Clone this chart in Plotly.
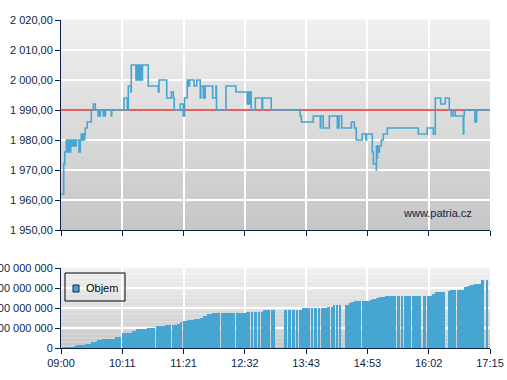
import plotly.graph_objects as go

# ---------------- data ----------------
price_times = [
    "09:00:00", "09:03:06", "09:04:18", "09:06:06", "09:06:42", "09:07:12", "09:07:48", "09:08:36",
    "09:09:30", "09:11:12", "09:12:18", "09:12:48", "09:14:42", "09:15:12", "09:17:00", "09:17:30",
    "09:20:48", "09:21:18", "09:21:48", "09:22:18", "09:23:24", "09:24:12", "09:24:48", "09:25:24",
    "09:26:00", "09:26:36", "09:27:18", "09:28:00", "09:30:18", "09:35:00", "09:37:18", "09:39:36",
    "09:42:42", "09:43:30", "09:44:18", "09:45:30", "09:48:48", "09:49:36", "09:50:24", "09:51:12",
    "09:58:00", "09:58:30", "10:12:42", "10:16:30", "10:17:42", "10:20:48", "10:21:06", "10:26:30",
    "10:27:12", "10:27:54", "10:28:36", "10:29:18", "10:30:00", "10:30:42", "10:31:24", "10:32:06",
    "10:32:48", "10:33:30", "10:34:00", "10:40:42", "10:52:18", "10:53:06", "11:02:00", "11:07:18",
    "11:09:36", "11:10:42", "11:17:36", "11:21:06", "11:22:30", "11:25:42", "11:26:18", "11:27:00",
    "11:27:42", "11:28:18", "11:33:30", "11:36:36", "11:40:42", "11:41:18", "11:44:12", "11:44:54",
    "11:45:36", "11:46:18", "11:55:00", "11:58:48", "11:59:24", "12:10:24", "12:21:54", "12:35:00",
    "12:35:36", "12:37:18", "12:38:00", "12:39:30", "12:44:12", "12:51:54", "12:52:36", "13:02:36",
    "13:35:48", "13:37:18", "13:51:06", "13:59:12", "13:59:48", "14:02:36", "14:09:36", "14:18:48",
    "14:19:30", "14:20:12", "14:20:48", "14:23:54", "14:35:00", "14:38:24", "14:40:42", "14:47:36",
    "14:51:54", "14:52:36", "14:59:12", "15:00:24", "15:03:48", "15:04:00", "15:04:36", "15:05:12",
    "15:05:48", "15:07:18", "15:09:36", "15:11:54", "15:16:30", "15:52:18", "16:02:36", "16:09:36",
    "16:11:54", "16:18:06", "16:23:24", "16:28:00", "16:30:18", "16:32:36", "16:34:54", "16:44:12",
    "16:44:42", "16:45:18", "16:57:42", "16:58:18", "16:58:54", "16:59:30", "17:15:00",
]
price_values = [
    1962, 1972, 1976, 1980, 1976, 1980, 1976, 1980,
    1976, 1980, 1978, 1980, 1978, 1980, 1978, 1980,
    1976, 1980, 1976, 1980, 1982, 1980, 1982, 1980,
    1982, 1980, 1982, 1984, 1986, 1990, 1992, 1990,
    1988, 1990, 1988, 1990, 1988, 1990, 1988, 1990,
    1988, 1990, 1994, 1990, 1998, 1996, 2005, 2000,
    2005, 2000, 2005, 2000, 2005, 2000, 2005, 2000,
    2005, 2000, 2005, 1998, 1996, 2000, 1994, 1996,
    1994, 1990, 1992, 1988, 1994, 2000, 1998, 2000,
    1998, 2000, 1998, 2000, 1994, 1998, 1994, 1998,
    1994, 1998, 1994, 1998, 1990, 1998, 1996, 1992,
    1996, 1992, 1996, 1990, 1994, 1990, 1994, 1990,
    1988, 1986, 1988, 1984, 1988, 1984, 1988, 1984,
    1988, 1984, 1988, 1984, 1986, 1984, 1980, 1982,
    1980, 1982, 1976, 1972, 1970, 1978, 1974, 1978,
    1976, 1978, 1980, 1982, 1984, 1982, 1984, 1982,
    1994, 1992, 1994, 1990, 1988, 1990, 1988, 1982,
    1988, 1990, 1986, 1990, 1986, 1990, 1990,
]
prev_close = 1990

vol_start = [
    "09:02", "09:15", "09:17", "09:28", "09:35", "09:41", "09:47", "10:02", "10:10", "10:22",
    "10:27", "10:39", "10:50", "11:00", "11:04", "11:08", "11:14", "11:17", "11:21", "11:27",
    "11:33", "11:40", "11:44", "11:48", "11:54", "12:02", "12:05", "12:12", "12:22", "12:25",
    "12:27", "12:34", "12:39", "12:43", "12:44", "12:47", "12:51", "12:53", "13:02", "13:17",
    "13:22", "13:26", "13:31", "13:35", "13:38", "13:43", "13:48", "13:52", "13:56", "14:00",
    "14:04", "14:08", "14:11", "14:14", "14:17", "14:21", "14:28", "14:32", "14:35", "14:38",
    "14:47", "14:56", "14:57", "14:59", "15:03", "15:07", "15:14", "15:28", "15:32", "15:36",
    "15:45", "15:58", "16:02", "16:08", "16:12", "16:27", "16:29", "16:37", "16:45", "16:47",
    "16:48", "16:52", "16:55", "16:57", "17:05", "17:11",
]
vol_end = [
    "09:15", "09:17", "09:28", "09:35", "09:41", "09:47", "10:02", "10:09", "10:22", "10:27",
    "10:39", "10:48", "11:00", "11:03", "11:07", "11:14", "11:17", "11:20", "11:27", "11:33",
    "11:40", "11:44", "11:48", "11:54", "12:01", "12:04", "12:11", "12:21", "12:24", "12:26",
    "12:34", "12:38", "12:42", "12:44", "12:46", "12:50", "12:53", "13:01", "13:07", "13:21",
    "13:25", "13:30", "13:34", "13:38", "13:43", "13:47", "13:51", "13:55", "13:59", "14:03",
    "14:08", "14:10", "14:14", "14:16", "14:20", "14:23", "14:32", "14:35", "14:38", "14:46",
    "14:55", "14:57", "14:59", "15:03", "15:07", "15:14", "15:27", "15:31", "15:35", "15:44",
    "15:55", "16:01", "16:08", "16:12", "16:23", "16:29", "16:36", "16:45", "16:46", "16:48",
    "16:52", "16:54", "16:57", "17:05", "17:08", "17:13",
]
vol_values_mil = [
    10, 20, 30, 43, 63, 80, 93, 107, 153, 170,
    187, 197, 220, 230, 230, 230, 240, 257, 273, 283,
    290, 303, 317, 337, 353, 353, 353, 353, 353, 353,
    353, 360, 360, 360, 363, 363, 363, 380, 380, 380,
    380, 380, 380, 380, 397, 400, 400, 400, 400, 400,
    400, 413, 413, 427, 427, 427, 430, 453, 463, 470,
    470, 470, 480, 490, 503, 513, 523, 523, 523, 523,
    523, 523, 523, 537, 560, 573, 583, 583, 610, 610,
    620, 627, 627, 637, 680, 680,
]

tick_labels_x = ["09:00", "10:11", "11:21", "12:32", "13:43", "14:53", "16:02", "17:15"]
price_ticks = [1950, 1960, 1970, 1980, 1990, 2000, 2010, 2020]
price_tick_text = ["1 950,00", "1 960,00", "1 970,00", "1 980,00", "1 990,00",
                   "2 000,00", "2 010,00", "2 020,00"]
vol_ticks_mil = [0, 200, 400, 600, 800]
vol_tick_text = ["0", "200 000 000", "400 000 000", "600 000 000", "800 000 000"]


def to_min(s):
    parts = [int(p) for p in s.split(":")]
    h, m = parts[0], parts[1]
    sec = parts[2] if len(parts) > 2 else 0
    return (h - 9) * 60 + m + sec / 60.0


session_end = to_min("17:15")
tickvals_x = [session_end * k / 7 for k in range(8)]

px = [to_min(t) for t in price_times]
vs = [to_min(t) for t in vol_start]
ve = [to_min(t) for t in vol_end]
vx = [(a + b) / 2 for a, b in zip(vs, ve)]
vw = [b - a for a, b in zip(vs, ve)]
vy = [v * 1e6 for v in vol_values_mil]

NAVY = "#0c1f4a"
BLUE = "#47a5d1"
TICKFONT = dict(family="Liberation Sans, Arial, sans-serif", size=11, color=NAVY)

fig = go.Figure()

fig.add_trace(go.Scatter(x=[0, session_end], y=[prev_close, prev_close], mode="lines",
                         line=dict(color="#e02a2a", width=1.3), xaxis="x", yaxis="y",
                         hoverinfo="skip", showlegend=False))
fig.add_trace(go.Scatter(x=px, y=price_values, mode="lines", line_shape="hv",
                         line=dict(color=BLUE, width=1.6), xaxis="x", yaxis="y",
                         showlegend=False))
fig.add_trace(go.Bar(x=vx, y=vy, width=vw, marker=dict(color=BLUE, line=dict(width=0)),
                     xaxis="x2", yaxis="y2", showlegend=False))

# gradient backgrounds
shapes = []
N = 60
top_rgb = (240, 240, 240)
bot_rgb = (198, 198, 198)
for xr, yr in (("x domain", "y domain"), ("x2 domain", "y2 domain")):
    for i in range(N):
        f = (i + 0.5) / N
        c = tuple(int(round(bot_rgb[j] + (top_rgb[j] - bot_rgb[j]) * f)) for j in range(3))
        shapes.append(dict(type="rect", xref=xr, yref=yr, x0=0, x1=1, y0=i / N, y1=(i + 1) / N + 0.002,
                           fillcolor="rgb(%d,%d,%d)" % c, line=dict(width=0), layer="below"))

# manual legend in the volume panel
shapes.append(dict(type="rect", xref="x2 domain", yref="y2 domain", x0=0.0093, x1=0.1492,
                   y0=0.5875, y1=0.9375, line=dict(color="#000000", width=1), fillcolor="rgba(0,0,0,0)",
                   layer="above"))
shapes.append(dict(type="rect", xref="x2 domain", yref="y2 domain", x0=0.028, x1=0.042,
                   y0=0.70, y1=0.7875, line=dict(color="#1a2540", width=1), fillcolor=BLUE,
                   layer="above"))

annotations = [
    dict(text="Objem", xref="x2 domain", yref="y2 domain", x=0.0535, y=0.745, xanchor="left",
         yanchor="middle", showarrow=False,
         font=dict(family="Liberation Sans, Arial, sans-serif", size=11, color="#000000")),
    dict(text="www.patria.cz", xref="x domain", yref="y domain", x=0.962, y=0.081, xanchor="right",
         yanchor="middle", showarrow=False,
         font=dict(family="Liberation Sans, Arial, sans-serif", size=11, color=NAVY)),
]

axis_common = dict(showline=True, linecolor=NAVY, linewidth=1, ticks="outside", ticklen=5,
                   tickcolor=NAVY, tickwidth=1, gridcolor="#ffffff", gridwidth=1.6,
                   zeroline=False, tickfont=TICKFONT, automargin=False)

y_split_top = 118 / 328
y_split_bot = 80 / 328

fig.update_layout(
    width=507, height=380,
    margin=dict(l=61, r=17, t=20, b=32),
    paper_bgcolor="#ffffff", plot_bgcolor="rgba(0,0,0,0)",
    showlegend=False, bargap=0,
    xaxis=dict(domain=[0, 1], range=[0, session_end], tickvals=tickvals_x, ticktext=tick_labels_x,
               showticklabels=False, anchor="y", **axis_common),
    yaxis=dict(domain=[y_split_top, 1], range=[1950, 2020], tickvals=price_ticks,
               ticktext=price_tick_text, anchor="x", **axis_common),
    xaxis2=dict(domain=[0, 1], range=[0, session_end], tickvals=tickvals_x, ticktext=tick_labels_x,
                anchor="y2", **axis_common),
    yaxis2=dict(domain=[0, y_split_bot], range=[0, 800e6], tickvals=[v * 1e6 for v in vol_ticks_mil],
                ticktext=vol_tick_text, anchor="x2", **axis_common),
    shapes=shapes,
    annotations=annotations,
)

fig.write_html("out.html", config={"displayModeBar": False},
               post_script="document.body.style.margin='0';document.body.style.overflow='hidden';")
